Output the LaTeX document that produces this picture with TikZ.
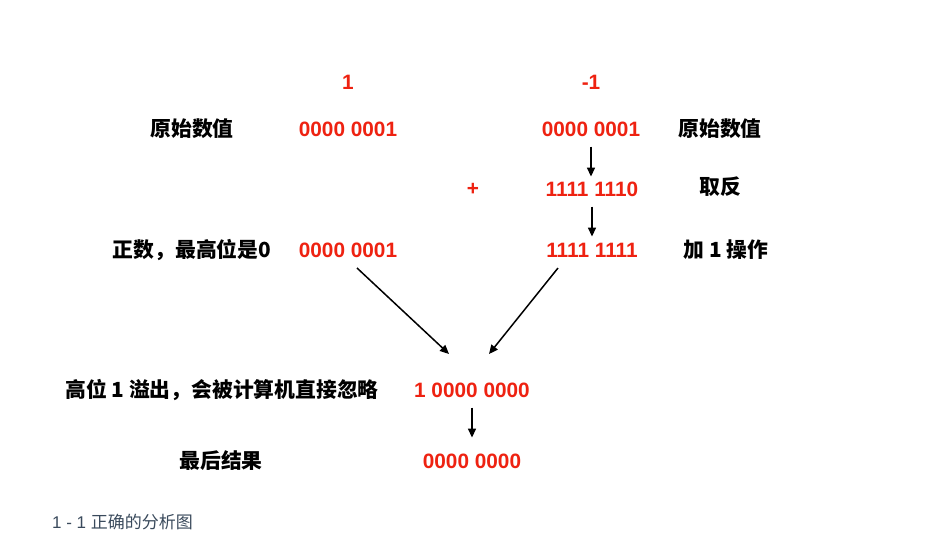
\documentclass[tikz,border=0pt]{standalone}
\usepackage{fontspec}
\setmainfont{Liberation Sans}
\newfontfamily\cjk{Noto Sans CJK SC}
\usetikzlibrary{arrows.meta}
\definecolor{numred}{HTML}{EE2211}
\definecolor{capcol}{HTML}{3A4A5C}
\tikzset{
  num/.style={text=numred, font=\fontsize{20.8}{24}\selectfont\bfseries, inner sep=0pt},
  lab/.style={text=black, font=\cjk\fontsize{20.8}{24}\selectfont\bfseries, inner sep=0pt},
  arr/.style={-{Triangle[length=9pt,width=8pt]}, line width=1.5pt, black},
}
\begin{document}
\begin{tikzpicture}[x=1pt,y=-1pt]
\useasboundingbox (0,0) rectangle (926,542);
% top labels
\node[num] (one) at (348,82) {1};
\node[num] (mone) at (591,82) {-1};
% row 1
\node[lab] (l1) at (192,129) {原始数值};
\node[num] (a1) at (348,129) {0000 0001};
\node[num] (b1) at (591,129) {0000 0001};
\node[lab] (r1) at (720,129) {原始数值};
% row 2
\node[num] (plus) at (473,189) {+};
\node[num] (b2) at (592,189) {1111 1110};
\node[lab] (r2) at (720,187) {取反};
% row 3
\node[lab] (l3) at (192,250) {正数，最高位是0};
\node[num] (a3) at (348,250) {0000 0001};
\node[num] (b3) at (592,250) {1111 1111};
\node[lab] (r3) at (726,250) {加 1 操作};
% row 4
\node[lab] (l4) at (222,390) {高位 1 溢出，会被计算机直接忽略};
\node[num] (s) at (472,390) {1 0000 0000};
% row 5
\node[lab] (l5) at (221,461) {最后结果};
\node[num] (res) at (472,461) {0000 0000};
% caption
\node[anchor=west, inner sep=0pt, text=capcol, font=\fontsize{17}{20}\selectfont] (cap) at (52,522) {1 - 1 {\cjk 正确的分析图}};
% arrows
\coordinate (c1) at (449,354);
\coordinate (c2) at (489,354);
\draw[arr] (b1.south) ++(0,10) -- ++(0,30);
\draw[arr] (b2.south) ++(0,10) -- ++(0,30);
\coordinate (d1) at (357,268);
\coordinate (d2) at (558,268);
\draw[arr] (d1) -- (c1);
\draw[arr] (d2) -- (c2);
\draw[arr] (s.south) ++(0,10) -- ++(0,30);
\end{tikzpicture}
\end{document}
